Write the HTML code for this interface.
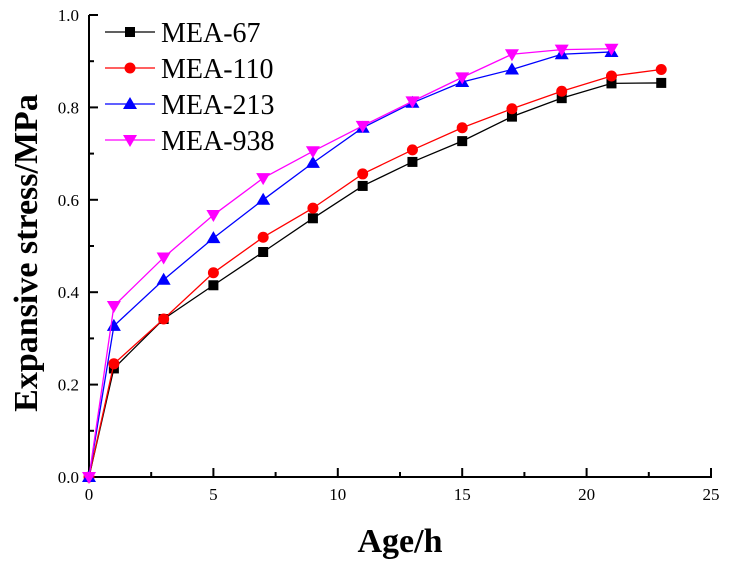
<!DOCTYPE html>
<html><head><meta charset="utf-8"><style>
html,body{margin:0;padding:0;background:#fff;}
</style></head><body>
<svg id="s" width="730" height="562" viewBox="0 0 730 562" xmlns="http://www.w3.org/2000/svg" font-family="Liberation Serif, Times New Roman, serif"></svg>
<script>
const X0=89,PX=124.4/5,Y0=477,PY=462;
const X=v=>X0+v*PX,Y=v=>Y0-v*PY;
const F='font-family="Liberation Serif, serif"';
let h='';
h+=`<line x1="${X0}" y1="${Y0}" x2="712" y2="${Y0}" stroke="#000" stroke-width="2"/>`;
h+=`<line x1="${X0}" y1="${Y0}" x2="${X0}" y2="15" stroke="#000" stroke-width="2"/>`;
for(let i=0;i<=10;i++){const x=X(i*2.5),maj=i%2==0;h+=`<line x1="${x}" y1="${Y0}" x2="${x}" y2="${Y0-(maj?9:5)}" stroke="#000" stroke-width="2"/>`;
 if(maj)h+=`<text ${F} x="${x}" y="500" font-size="17" text-anchor="middle">${i*2.5}</text>`;}
for(let i=0;i<=10;i++){const y=Y(i*0.1),maj=i%2==0;h+=`<line x1="${X0}" y1="${y}" x2="${X0+(maj?9:5)}" y2="${y}" stroke="#000" stroke-width="2"/>`;
 if(maj)h+=`<text ${F} x="79" y="${y+6}" font-size="17" text-anchor="end">${(i/10).toFixed(1)}</text>`;}
h+=`<text ${F} x="400" y="552" font-size="34" font-weight="bold" text-anchor="middle">Age/h</text>`;
h+=`<text ${F} transform="translate(37,253) rotate(-90)" font-size="34" font-weight="bold" text-anchor="middle">Expansive stress/MPa</text>`;
const xs=[0,1,3,5,7,9,11,13,15,17,19,21,23];
const S=[
['#000','sq',[0,0.235,0.342,0.415,0.487,0.56,0.63,0.682,0.727,0.78,0.82,0.852,0.853],'MEA-67'],
['#f00','ci',[0,0.245,0.342,0.442,0.519,0.582,0.656,0.708,0.756,0.797,0.835,0.868,0.882],'MEA-110'],
['#00f','up',[0,0.327,0.427,0.517,0.6,0.68,0.756,0.81,0.855,0.882,0.915,0.92],'MEA-213'],
['#f0f','dn',[0,0.37,0.475,0.567,0.647,0.705,0.76,0.813,0.865,0.915,0.925,0.927],'MEA-938']];
function mk(t,c,x,y){
 if(t=='sq')return `<rect x="${x-5}" y="${y-5}" width="10" height="10" fill="${c}"/>`;
 if(t=='ci')return `<circle cx="${x}" cy="${y}" r="5.5" fill="${c}"/>`;
 if(t=='up')return `<polygon points="${x-7},${y+5} ${x+7},${y+5} ${x},${y-7}" fill="${c}"/>`;
 return `<polygon points="${x-7},${y-5} ${x+7},${y-5} ${x},${y+7}" fill="${c}"/>`;}
S.forEach((s,k)=>{
 const p=s[2].map((v,i)=>`${X(xs[i])},${Y(v)}`).join(' ');
 h+=`<polyline points="${p}" fill="none" stroke="${s[0]}" stroke-width="1.3"/>`;
 s[2].forEach((v,i)=>h+=mk(s[1],s[0],X(xs[i]),Y(v)));
 const ly=32+k*36;
 h+=`<line x1="105" y1="${ly}" x2="155" y2="${ly}" stroke="${s[0]}" stroke-width="1.3"/>`+mk(s[1],s[0],130,ly);
 h+=`<text ${F} x="161" y="${ly+10}" font-size="28">${s[3]}</text>`;
});
document.getElementById('s').innerHTML=h;
</script>
</body></html>
